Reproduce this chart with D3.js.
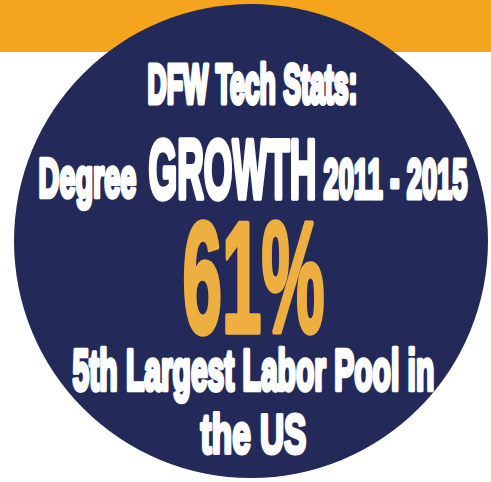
<!DOCTYPE html>
<html>
<head>
<meta charset="utf-8">
<script src="https://cdn.jsdelivr.net/npm/d3@7"></script>
<style>
  body { margin: 0; background: #fff; }
  svg { display: block; }
</style>
</head>
<body>
<div id="chart"></div>
<script>
// text lines of the badge
var labels = ["DFW Tech Stats:", "Degree", "GROWTH", "2011 - 2015", "61%", "5th Largest Labor Pool in", "the US"];
// left edge, right edge, baseline, font size (px)
var lefts = [147, 38, 148, 323, 182, 72, 200];
var rights = [358, 137, 317, 468, 325, 435, 307];
var baselines = [103, 197, 198, 198, 332, 390, 453];
var sizes = [56, 56, 84, 56, 158, 57, 55];
var fills = ["#fff", "#fff", "#fff", "#fff", "#edaf3f", "#fff", "#fff"];

var width = 491, height = 482;

var svg = d3.select("#chart")
    .append("svg")
    .attr("width", width)
    .attr("height", height);

// orange band at the top
svg.append("rect")
    .attr("x", 0).attr("y", 0)
    .attr("width", width).attr("height", 52)
    .attr("fill", "#f5a51d");

// big navy circle
svg.append("circle")
    .attr("cx", 251).attr("cy", 241)
    .attr("r", 237)
    .attr("fill", "#232a5a");

var rows = labels.map(function(d, i) {
    return {text: d, x0: lefts[i], x1: rights[i], y: baselines[i], size: sizes[i], fill: fills[i]};
});

var sw = 2.4;

// draw each line at natural width, then squeeze it horizontally to fit
svg.selectAll("text.line")
    .data(rows)
    .enter().append("text")
    .attr("class", "line")
    .attr("x", 0)
    .attr("y", 0)
    .style("font-family", "'Liberation Sans', Arial, sans-serif")
    .style("font-weight", "bold")
    .style("font-size", function(d) { return d.size + "px"; })
    .attr("fill", function(d) { return d.fill; })
    .attr("stroke", function(d) { return d.fill; })
    .attr("stroke-linejoin", "round")
    .text(function(d) { return d.text; })
    .each(function(d) {
        var bb = this.getBBox();
        var sx = (d.x1 - d.x0 - sw / 2) / bb.width;
        d3.select(this)
            .attr("stroke-width", sw / sx)
            .attr("transform", "translate(" + (d.x0 + sw / 4 - bb.x * sx) + "," + d.y + ") scale(" + sx + ",1)");
    });
</script>
</body>
</html>
